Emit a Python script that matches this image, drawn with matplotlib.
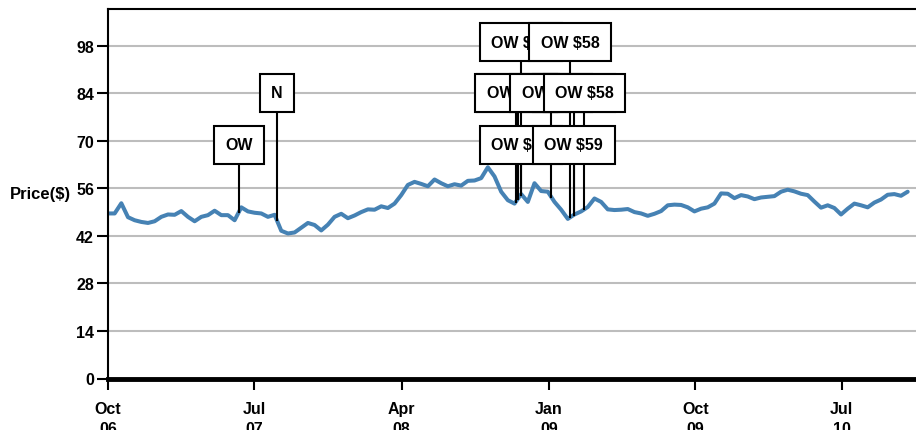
import numpy as np
import pandas as pd
import matplotlib
matplotlib.use("Agg")
import matplotlib.pyplot as plt
import matplotlib.dates as mdates

plt.rcParams.update({
    "font.family": ["Liberation Sans", "DejaVu Sans"],
    "font.weight": "bold",
    "font.size": 11.5,
})

# ===== data =====
start_date = "2006-10-01"
end_date = "2010-11-01"
prices = [
    48.6, 48.6, 51.6, 47.5, 46.6, 46.1, 45.8, 46.3, 47.6, 48.3,
    48.2, 49.3, 47.6, 46.3, 47.6, 48.1, 49.4, 48.1, 48.1, 46.6,
    50.4, 49.2, 48.8, 48.6, 47.6, 48.2, 43.5, 42.7, 43.0, 44.4,
    45.8, 45.2, 43.6, 45.3, 47.6, 48.5, 47.2, 48.0, 49.0, 49.8,
    49.7, 50.7, 50.2, 51.5, 54.0, 57.0, 57.9, 57.3, 56.6, 58.6,
    57.5, 56.6, 57.2, 56.8, 58.2, 58.3, 59.0, 62.2, 59.5, 55.0,
    52.5, 51.5, 54.3, 52.0, 57.5, 55.2, 55.0, 52.0, 49.7, 47.0,
    48.3, 49.2, 50.5, 53.0, 52.0, 49.8, 49.6, 49.7, 49.9, 49.0,
    48.6, 47.9, 48.5, 49.3, 51.0, 51.2, 51.1, 50.4, 49.2, 50.0,
    50.4, 51.5, 54.5, 54.4, 53.1, 54.0, 53.6, 52.8, 53.3, 53.5,
    53.7, 55.0, 55.6, 55.1, 54.4, 54.0, 52.1, 50.3, 51.0, 50.2,
    48.3, 50.0, 51.5, 51.0, 50.4, 51.8, 52.7, 54.1, 54.3, 53.8,
    55.0,
]
dates = pd.date_range(start_date, end_date, periods=len(prices))

# rating annotations: date, label, row (0 = lowest box row)
ann_dates = ["2007-06-02", "2007-08-12",
             "2008-11-09", "2009-02-09",
             "2008-11-04", "2009-02-16", "2008-10-31", "2009-01-05", "2009-03-08",
             "2008-11-09", "2009-02-16"]
ann_labels = ["OW", "N",
              "OW $58", "OW $58",
              "OW $58", "OW $58", "OW $58", "OW $58", "OW $58",
              "OW $58", "OW $59"]
ann_rows = [0, 1,
            2, 2,
            1, 1, 1, 1, 1,
            0, 0]
row_values = [68.8, 84.1, 99.0]

yticks = [0, 14, 28, 42, 56, 70, 84, 98]
xtick_dates = ["2006-10-01", "2007-07-01", "2008-04-01", "2009-01-01", "2009-10-01", "2010-07-01"]
xtick_labels = ["Oct\n06", "Jul\n07", "Apr\n08", "Jan\n09", "Oct\n09", "Jul\n10"]

# ===== plot =====
fig = plt.figure(figsize=(9.16, 4.31), dpi=100)
ax = fig.add_axes([108 / 916, (431 - 379.5) / 431, 812 / 916, 369.5 / 431])

ax.plot(dates, prices, color="#4682b4", lw=2.9, zorder=2, solid_capstyle="round")

# vertical lines + boxes
xnum = mdates.date2num(dates)
for d, lab, r in zip(ann_dates, ann_labels, ann_rows):
    dn = mdates.date2num(pd.Timestamp(d))
    yv = np.interp(dn, xnum, prices)
    ax.plot([dn, dn], [yv, row_values[r]], color="black", lw=1.5, zorder=3)
for d, lab, r in zip(ann_dates, ann_labels, ann_rows):
    dn = mdates.date2num(pd.Timestamp(d))
    ax.text(dn, row_values[r], lab, ha="center", va="center", fontsize=11.5,
            fontweight="bold", zorder=4,
            bbox=dict(boxstyle="square,pad=0.72", fc="white", ec="black", lw=1.5))

ax.set_ylim(0, 108.8)
ax.set_xlim(pd.Timestamp(start_date), pd.Timestamp("2010-11-24"))

ax.set_yticks(yticks)
ax.set_yticklabels([str(v) for v in yticks])
ax.yaxis.grid(True, color="#bdbdbd", lw=1.5)
ax.set_axisbelow(True)

ax.set_xticks([pd.Timestamp(d) for d in xtick_dates])
ax.set_xticklabels(xtick_labels, linespacing=1.4)

ax.tick_params(axis="y", length=8, width=1.5, pad=2, labelsize=11.5)
ax.tick_params(axis="x", length=8, width=1.5, pad=8, labelsize=11.5)

for s in ["left", "top"]:
    ax.spines[s].set_linewidth(1.5)
ax.spines["bottom"].set_linewidth(3.5)
ax.spines["right"].set_visible(False)

ax.set_ylabel("Price($)", rotation=0, ha="right", va="center", fontsize=12,
              fontweight="bold")
ax.yaxis.set_label_coords(-0.045, 0.5)

fig.savefig("out.png", dpi=100)
